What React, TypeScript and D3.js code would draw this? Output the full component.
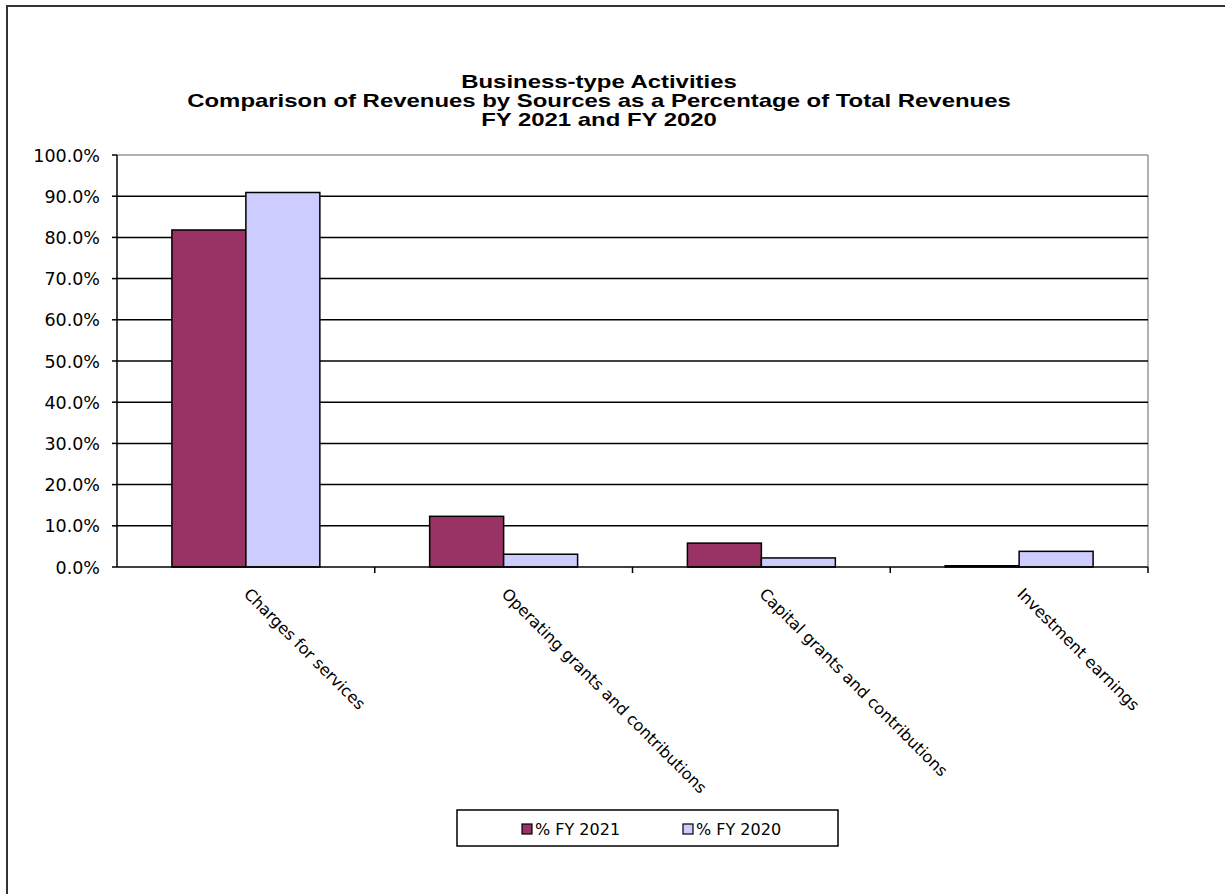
import React from "react";
import * as d3 from "d3";

const categories = [
  "Charges for services",
  "Operating grants and contributions",
  "Capital grants and contributions",
  "Investment earnings",
];
const seriesNames = ["% FY 2021", "% FY 2020"];
const fy2021 = [81.8, 12.3, 5.8, 0.3];
const fy2020 = [90.9, 3.1, 2.2, 3.8];
const yTicks = [0, 10, 20, 30, 40, 50, 60, 70, 80, 90, 100];
const titleLines = [
  "Business-type Activities",
  "Comparison of Revenues by Sources as a Percentage of Total Revenues",
  "FY 2021 and FY 2020",
];
const colors = ["#993366", "#CCCCFF"];

export default function App() {
  const W = 1225, H = 894;
  const left = 117, right = 1148, top = 155, bottom = 567;
  const x = d3.scaleBand<string>().domain(categories).range([left, right]).paddingInner(0).paddingOuter(0);
  const y = d3.scaleLinear().domain([0, 100]).range([bottom, top]);
  const series = [fy2021, fy2020];
  const bw = x.bandwidth();
  const barW = bw * 0.287;
  const groupOff = (bw - barW * 2) / 2;
  const labelFont = "'DejaVu Sans', Verdana, sans-serif";

  return (
    <svg width={W} height={H} style={{ position: "absolute", left: 0, top: 0, background: "#fff" }}>
      <rect x={7} y={6} width={1300} height={1000} fill="#fff" stroke="#333" strokeWidth={2} />
      {titleLines.map((t, i) => (
        <text key={i} transform={`translate(599,${88 + i * 19}) scale(1.33,1)`} textAnchor="middle"
          fontFamily="'Liberation Sans', Arial, sans-serif"
          fontWeight="bold" fontSize={18} fill="#000">{t}</text>
      ))}
      {/* plot border */}
      <line x1={left} x2={right} y1={top} y2={top} stroke="#999" strokeWidth={1.5} />
      <line x1={right} x2={right} y1={top} y2={bottom} stroke="#999" strokeWidth={1.5} />
      {yTicks.filter(t => t > 0 && t < 100).map(t => (
        <line key={t} x1={left} x2={right} y1={y(t)} y2={y(t)} stroke="#000" strokeWidth={1.5} />
      ))}
      {yTicks.map(t => (
        <g key={"yt" + t}>
          <line x1={left - 5} x2={left} y1={y(t)} y2={y(t)} stroke="#000" strokeWidth={1.5} />
          <text x={100} y={y(t) + 6.5} textAnchor="end" fontFamily={labelFont} fontSize={17.5} fill="#000">
            {t.toFixed(1) + "%"}
          </text>
        </g>
      ))}
      {categories.map((c, ci) => series.map((s, si) => {
        const x0 = (x(c) as number) + groupOff + si * barW;
        return (
          <rect key={c + si} x={x0} y={y(s[ci])} width={barW} height={bottom - y(s[ci])}
            fill={colors[si]} stroke="#000" strokeWidth={1.5} />
        );
      }))}
      <line x1={left} x2={left} y1={top} y2={bottom} stroke="#000" strokeWidth={1.5} />
      <line x1={left} x2={right} y1={bottom} y2={bottom} stroke="#000" strokeWidth={1.5} />
      {categories.map((c, i) => (
        <line key={"xt" + i} x1={(x(c) as number) + bw} x2={(x(c) as number) + bw} y1={bottom} y2={bottom + 6} stroke="#000" strokeWidth={1.5} />
      ))}
      {categories.map(c => {
        const cx = (x(c) as number) + bw / 2;
        return (
          <text key={"xl" + c} transform={`translate(${cx - 3},${bottom + 28}) rotate(45)`} textAnchor="start"
            fontFamily={labelFont} fontSize={16} fill="#000">{c}</text>
        );
      })}
      {/* legend */}
      <rect x={457} y={810} width={381} height={36} fill="#fff" stroke="#000" strokeWidth={1.5} />
      {seriesNames.map((n, i) => (
        <g key={n} transform={`translate(${522 + i * 161},829)`}>
          <rect x={0} y={-5} width={10} height={10} fill={colors[i]} stroke="#000" strokeWidth={1.2} />
          <text x={13} y={6} fontFamily={labelFont} fontSize={16} fill="#000">{n}</text>
        </g>
      ))}
    </svg>
  );
}
